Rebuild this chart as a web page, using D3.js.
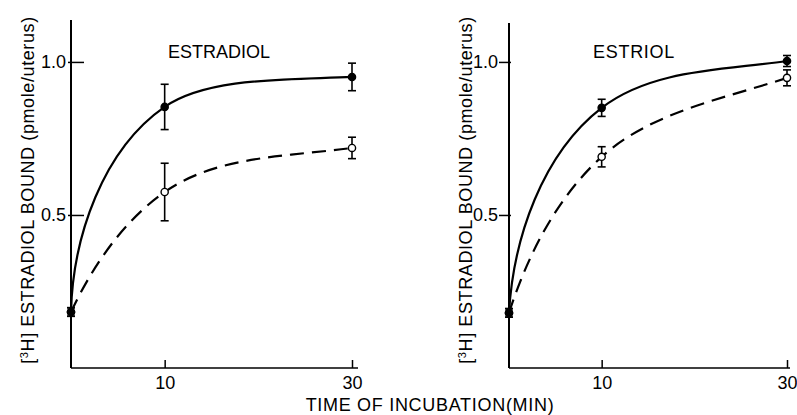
<!doctype html>
<meta charset="utf-8">
<title>estradiol bound vs time of incubation</title>
<script src="https://cdn.jsdelivr.net/npm/d3@7"></script>
<style>
  body { margin: 0; background: #fff; }
  svg text { font-family: "Liberation Sans", Arial, sans-serif; fill: #000; }
</style>
<body>
<svg id="chart" width="797" height="415"></svg>
<script>

// time of incubation (min)
var times = [0, 10, 30];

// ESTRADIOL panel
var estradiolFilled    = [0.183, 0.853, 0.951];
var estradiolFilledErr = [0.014, 0.074, 0.045];
var estradiolOpen      = [0.183, 0.575, 0.719];
var estradiolOpenErr   = [0.014, 0.094, 0.035];

// ESTRIOL panel
var estriolFilled    = [0.180, 0.850, 1.003];
var estriolFilledErr = [0.014, 0.028, 0.018];
var estriolOpen      = [0.180, 0.690, 0.948];
var estriolOpenErr   = [0.014, 0.033, 0.026];

var yTicks = [0.5, 1.0];
var yTickLabels = ["0.5", "1.0"];
var xTicks = [10, 30];

var svg = d3.select("#chart");

// hand-drawn looking smooth curve: cubic hermite through the points,
// steep start, easing off toward the last point (no overshoot)
function smoothRise(context) {
  var pts = [];
  function ang(dx, dy) { return Math.atan2(-dy, dx); }
  function clampAng(a) { return Math.max(0, Math.min(Math.PI / 2, a)); }
  return {
    areaStart: function() {}, areaEnd: function() {},
    lineStart: function() { pts = []; },
    point: function(x, y) { pts.push([+x, +y]); },
    lineEnd: function() {
      var n = pts.length, i;
      if (n < 3) {
        pts.forEach(function(p, i) { i ? context.lineTo(p[0], p[1]) : context.moveTo(p[0], p[1]); });
        return;
      }
      var L = [], A = [];
      for (i = 0; i < n - 1; i++) {
        var dx = pts[i + 1][0] - pts[i][0], dy = pts[i + 1][1] - pts[i][1];
        L.push(Math.sqrt(dx * dx + dy * dy));
        A.push(ang(dx, dy));
      }
      var T = new Array(n);
      for (i = 1; i < n - 1; i++) {
        var vx = Math.cos(A[i - 1]) * L[i] + Math.cos(A[i]) * L[i - 1];
        var vy = Math.sin(A[i - 1]) * L[i] + Math.sin(A[i]) * L[i - 1];
        T[i] = Math.atan2(vy, vx);
      }
      T[0] = clampAng(A[0] + 0.75 * (A[0] - T[1]));
      T[n - 1] = clampAng(A[n - 2] + 0.25 * (A[n - 2] - T[n - 2]));

      context.moveTo(pts[0][0], pts[0][1]);
      for (i = 0; i < n - 1; i++) {
        var p0 = pts[i], p1 = pts[i + 1], h = L[i] / 3;
        var c0x = Math.cos(T[i]), c0y = -Math.sin(T[i]);
        var c1x = Math.cos(T[i + 1]), c1y = -Math.sin(T[i + 1]);
        var span = Math.abs(p1[1] - p0[1]);
        var h0 = c0y ? Math.min(h, span / Math.abs(c0y)) : h;
        var h1 = c1y ? Math.min(h, span / Math.abs(c1y)) : h;
        context.bezierCurveTo(
          p0[0] + c0x * h0, p0[1] + c0y * h0,
          p1[0] - c1x * h1, p1[1] - c1y * h1,
          p1[0], p1[1]);
      }
    }
  };
}

function drawPanel(p) {
  var x = d3.scaleLinear().domain([0, 30]).range([p.x0, p.x1]);
  var y = d3.scaleLinear().domain([0, 1.137]).range([368, 20]);
  var g = svg.append("g");

  // axis lines
  g.append("line").attr("x1", p.x0).attr("x2", p.x0).attr("y1", 368).attr("y2", p.top)
    .attr("stroke", "#000").attr("stroke-width", 2);
  g.append("line").attr("x1", p.x0).attr("x2", p.xEnd).attr("y1", 368).attr("y2", 368)
    .attr("stroke", "#000").attr("stroke-width", 1.6);

  // y ticks
  var ya = g.append("g").attr("transform", "translate(" + p.x0 + ",0)")
    .call(d3.axisLeft(y).tickValues(yTicks).tickFormat(function(d, i) { return yTickLabels[i]; }));
  ya.select(".domain").remove();
  ya.selectAll(".tick line").attr("x1", p.tickIn).attr("x2", -p.tickOut)
    .attr("stroke-width", 1.5);
  ya.selectAll(".tick text").attr("x", -p.labelGap).attr("font-size", 18)
    .attr("font-family", "Liberation Sans, Arial, sans-serif");

  // x ticks
  var xa = g.append("g").attr("transform", "translate(0,368)")
    .call(d3.axisBottom(x).tickValues(xTicks).tickSizeInner(-8).tickSizeOuter(0).tickPadding(8));
  xa.select(".domain").remove();
  xa.selectAll(".tick line").attr("stroke-width", 1.5);
  xa.selectAll(".tick text").attr("font-size", 18)
    .attr("font-family", "Liberation Sans, Arial, sans-serif");

  // panel title
  g.append("text").attr("x", p.titleX).attr("y", 58).attr("text-anchor", "middle")
    .attr("font-size", 18).attr("letter-spacing", p.titleSpacing).text(p.title);

  // y axis label
  var yl = g.append("text")
    .attr("transform", "translate(" + (p.x0 - 37) + ",190) rotate(-90)")
    .attr("text-anchor", "middle").attr("font-size", 18).attr("letter-spacing", 0.6);
  yl.append("tspan").text("[");
  yl.append("tspan").attr("dy", -6).attr("font-size", 11).text("3");
  yl.append("tspan").attr("dy", 6).text("H] ESTRADIOL BOUND (pmole/uterus)");

  // curves, error bars, markers
  var line = d3.line()
    .x(function(d) { return x(d.t); })
    .y(function(d) { return y(d.v); })
    .curve(smoothRise);

  p.series.forEach(function(s) {
    var pts = times.map(function(t, i) { return { t: t, v: s.values[i], e: s.errors[i] }; });

    g.append("path").datum(pts).attr("d", line)
      .attr("fill", "none").attr("stroke", "#000").attr("stroke-width", 2.2)
      .attr("stroke-dasharray", s.dashed ? "14,8" : null);

    var eb = g.selectAll(null).data(pts).enter().append("g");
    eb.append("line")
      .attr("x1", function(d) { return x(d.t); }).attr("x2", function(d) { return x(d.t); })
      .attr("y1", function(d) { return y(d.v - d.e); }).attr("y2", function(d) { return y(d.v + d.e); })
      .attr("stroke", "#000").attr("stroke-width", 1.6);
    [-1, 1].forEach(function(sg) {
      eb.append("line")
        .attr("x1", function(d) { return x(d.t) - 4; }).attr("x2", function(d) { return x(d.t) + 4; })
        .attr("y1", function(d) { return y(d.v + sg * d.e); }).attr("y2", function(d) { return y(d.v + sg * d.e); })
        .attr("stroke", "#000").attr("stroke-width", 1.6);
    });

    g.selectAll(null).data(pts).enter().append("circle")
      .attr("cx", function(d) { return x(d.t); })
      .attr("cy", function(d) { return y(d.v); })
      .attr("r", 3.6)
      .attr("fill", s.dashed ? "#fff" : "#000")
      .attr("stroke", "#000").attr("stroke-width", 1.4);
  });
}

drawPanel({
  x0: 71, x1: 352, xEnd: 358, top: 20,
  tickIn: 13, tickOut: 3, labelGap: 5,
  title: "ESTRADIOL", titleX: 219, titleSpacing: 0,
  series: [
    { values: estradiolOpen, errors: estradiolOpenErr, dashed: true },
    { values: estradiolFilled, errors: estradiolFilledErr, dashed: false }
  ]
});

drawPanel({
  x0: 509, x1: 787, xEnd: 790, top: 23,
  tickIn: 2, tickOut: 10, labelGap: 11,
  title: "ESTRIOL", titleX: 634, titleSpacing: 0.7,
  series: [
    { values: estriolOpen, errors: estriolOpenErr, dashed: true },
    { values: estriolFilled, errors: estriolFilledErr, dashed: false }
  ]
});

// shared x axis title
svg.append("text").attr("x", 430).attr("y", 411).attr("text-anchor", "middle")
  .attr("font-size", 18).attr("letter-spacing", 0.7)
  .text("TIME OF INCUBATION(MIN)");

</script>
</body>
